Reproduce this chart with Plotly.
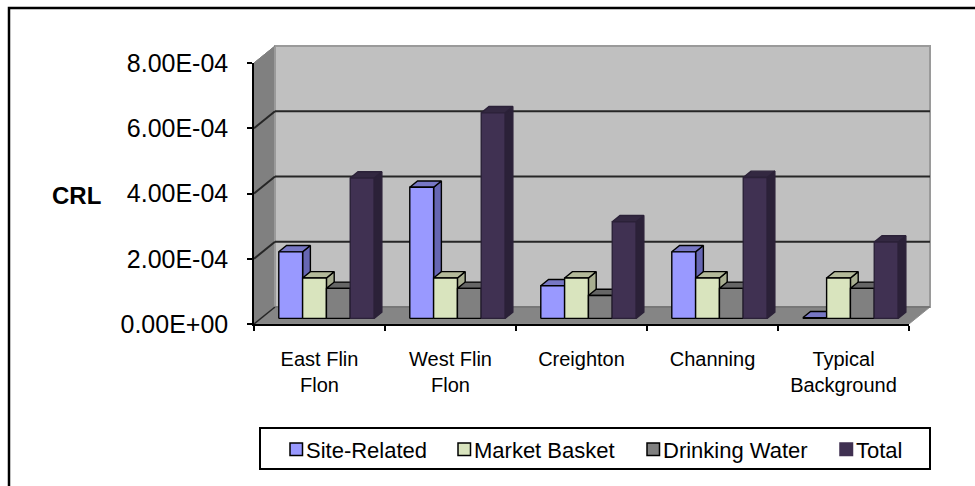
import plotly.graph_objects as go

categories = ["East Flin<br>Flon", "West Flin<br>Flon", "Creighton", "Channing", "Typical<br>Background"]
site_related = [2.04e-4, 4.02e-4, 1.00e-4, 2.04e-4, 0.02e-4]
market_basket = [1.24e-4, 1.24e-4, 1.24e-4, 1.24e-4, 1.24e-4]
drinking_water = [0.92e-4, 0.92e-4, 0.70e-4, 0.92e-4, 0.92e-4]
total = [4.30e-4, 6.30e-4, 2.96e-4, 4.32e-4, 2.34e-4]
y_ticks = [0, 2e-4, 4e-4, 6e-4, 8e-4]
y_tick_labels = ["0.00E+00", "2.00E-04", "4.00E-04", "6.00E-04", "8.00E-04"]

series = [
    ("Site-Related", site_related, "#9999FF", "#6666B3", "#7777C4", "#000000"),
    ("Market Basket", market_basket, "#D9E4BE", "#A8AE90", "#B4BA9A", "#000000"),
    ("Drinking Water", drinking_water, "#808080", "#595959", "#666666", "#000000"),
    ("Total", total, "#403152", "#2B2138", "#332841", "#2B2138"),
]

# Front plane of the oblique 3D frame, in pixels
LEFT, RIGHT, TOP, BOTTOM = 254, 909, 63, 324
DEPTH_PX_X, DEPTH_PX_Y = 21, 17
WIDTH, HEIGHT = 975, 486
n_cat = len(categories)
y_max = y_ticks[-1]
x_per_px = n_cat / (RIGHT - LEFT)
y_per_px = y_max / (BOTTOM - TOP)

# Oblique projection: depth 0 is the front plane and depth 1 the back wall
DEPTH_X = DEPTH_PX_X * x_per_px
DEPTH_Y = DEPTH_PX_Y * y_per_px
BAR_NEAR, BAR_FAR = 0.33, 0.70
BAR_WIDTH = 1 / 5.5
BAR_MARGIN = 0.75 * BAR_WIDTH


def proj(x, v, d):
    return x + d * DEPTH_X, v + d * DEPTH_Y


def polygon(corners, fill, line, width=1.4, name=None):
    xs, ys = zip(*corners)
    return go.Scatter(
        x=list(xs) + [xs[0]], y=list(ys) + [ys[0]], mode="lines", fill="toself",
        fillcolor=fill, line=dict(color=line, width=width), hoverinfo="skip",
        name=name, showlegend=False,
    )


def edge(p0, p1, color, width):
    return go.Scatter(
        x=[p0[0], p1[0]], y=[p0[1], p1[1]], mode="lines",
        line=dict(color=color, width=width), hoverinfo="skip", showlegend=False,
    )


fig = go.Figure()

# Frame: side wall, floor and back wall
fig.add_trace(polygon([proj(0, 0, 0), proj(0, y_max, 0), proj(0, y_max, 1), proj(0, 0, 1)], "#808080", "#808080", 1))
fig.add_trace(polygon([proj(0, 0, 0), proj(n_cat, 0, 0), proj(n_cat, 0, 1), proj(0, 0, 1)], "#858585", "#8C8C8C", 1))
fig.add_trace(polygon([proj(0, 0, 1), proj(n_cat, 0, 1), proj(n_cat, y_max, 1), proj(0, y_max, 1)], "#C0C0C0", "#9A9A9A", 2))

# Gridlines run along the side wall and across the back wall
for tick in y_ticks[1:-1]:
    fig.add_trace(edge(proj(0, tick, 0), proj(0, tick, 1), "#262626", 2))
    fig.add_trace(edge(proj(0, tick, 1), proj(n_cat, tick, 1), "#262626", 2))
fig.add_trace(edge(proj(0, 0, 0), proj(0, 0, 1), "#262626", 1.5))
fig.add_trace(edge(proj(0, 0, 1), proj(n_cat, 0, 1), "#555555", 1))
fig.add_trace(edge(proj(0, y_max, 0), proj(0, y_max, 1), "#808080", 1.0))

# Bars are painted left to right so each front face covers its neighbour's side
for c in range(n_cat):
    for s, (name, values, front, side, top, line) in enumerate(series):
        v = values[c]
        x0 = c + BAR_MARGIN + s * BAR_WIDTH
        x1 = x0 + BAR_WIDTH
        fig.add_trace(polygon([proj(x1, 0, BAR_NEAR), proj(x1, v, BAR_NEAR), proj(x1, v, BAR_FAR), proj(x1, 0, BAR_FAR)], side, line))
        fig.add_trace(polygon([proj(x0, v, BAR_NEAR), proj(x1, v, BAR_NEAR), proj(x1, v, BAR_FAR), proj(x0, v, BAR_FAR)], top, line))
        fig.add_trace(polygon([proj(x0, 0, BAR_NEAR), proj(x1, 0, BAR_NEAR), proj(x1, v, BAR_NEAR), proj(x0, v, BAR_NEAR)], front, line, name=name))

# An empty trace brings up the second subplot, which carries the visible axes
fig.add_trace(go.Scatter(x=[0], y=[0], mode="none", xaxis="x2", yaxis="y2", hoverinfo="skip", showlegend=False))


def paper_x(px):
    return px / WIDTH


def paper_y(px):
    return 1 - px / HEIGHT


FONT = "Liberation Sans, Arial, sans-serif"

# Outer chart border, legend box and legend entries
shapes = [
    dict(type="rect", xref="paper", yref="paper", x0=paper_x(9), x1=paper_x(990), y0=paper_y(500), y1=paper_y(8),
         line=dict(color="#000000", width=2.5), fillcolor="rgba(0,0,0,0)"),
    dict(type="rect", xref="paper", yref="paper", x0=paper_x(260), x1=paper_x(930), y0=paper_y(469), y1=paper_y(428),
         line=dict(color="#000000", width=2), fillcolor="#FFFFFF"),
]
legend_swatch_px = [290, 458, 647, 840]
annotations = []
for px, (name, _, front, _, _, line) in zip(legend_swatch_px, series):
    shapes.append(dict(type="rect", xref="paper", yref="paper", x0=paper_x(px), x1=paper_x(px + 12.5),
                       y0=paper_y(455.5), y1=paper_y(443), line=dict(color=line if name != "Total" else front, width=1.5), fillcolor=front))
    annotations.append(dict(xref="paper", yref="paper", x=paper_x(px + 14), y=paper_y(450), text=name, showarrow=False,
                            xanchor="left", yanchor="middle", font=dict(family=FONT, size=22, color="#000000")))
annotations.append(dict(xref="paper", yref="paper", x=paper_x(76), y=paper_y(195), text="<b>CRL</b>", showarrow=False,
                        xanchor="center", yanchor="middle", font=dict(family=FONT, size=24, color="#000000")))

fig.update_layout(
    width=WIDTH, height=HEIGHT,
    margin=dict(l=0, r=0, t=0, b=0, autoexpand=False),
    paper_bgcolor="#FFFFFF", plot_bgcolor="rgba(0,0,0,0)",
    showlegend=False, shapes=shapes, annotations=annotations,
    # Drawing subplot: same data scale as the front plane, widened to hold the depth offset
    xaxis=dict(
        domain=[paper_x(LEFT), paper_x(RIGHT + DEPTH_PX_X + 2)], range=[0, (RIGHT + DEPTH_PX_X + 2 - LEFT) * x_per_px],
        visible=False, fixedrange=True,
    ),
    yaxis=dict(
        domain=[paper_y(BOTTOM), paper_y(TOP - DEPTH_PX_Y - 2)], range=[0, (BOTTOM - TOP + DEPTH_PX_Y + 2) * y_per_px],
        visible=False, fixedrange=True,
    ),
    # Visible axes sit exactly on the front plane
    xaxis2=dict(
        domain=[paper_x(LEFT), paper_x(RIGHT)], anchor="y2", range=[0, n_cat],
        tickmode="array", tickvals=[c + 0.5 for c in range(n_cat)], ticktext=categories,
        ticks="", showgrid=False, zeroline=False, showline=True, linecolor="#000000", linewidth=1.5,
        tickfont=dict(family=FONT, size=20, color="#000000"), ticklabelstandoff=16, tickangle=0,
        minor=dict(tickmode="array", tickvals=list(range(n_cat + 1)), ticks="outside", ticklen=5, tickcolor="#000000", tickwidth=1.5, showgrid=False),
    ),
    yaxis2=dict(
        domain=[paper_y(BOTTOM), paper_y(TOP)], anchor="x2", range=[0, y_max],
        tickmode="array", tickvals=y_ticks, ticktext=y_tick_labels,
        ticks="outside", ticklen=5, tickwidth=1.5, tickcolor="#000000", showgrid=False, zeroline=False,
        showline=True, linecolor="#000000", linewidth=1.5, ticklabelstandoff=14,
        tickfont=dict(family=FONT, size=25, color="#000000"),
    ),
)

fig.write_html("out.html")
